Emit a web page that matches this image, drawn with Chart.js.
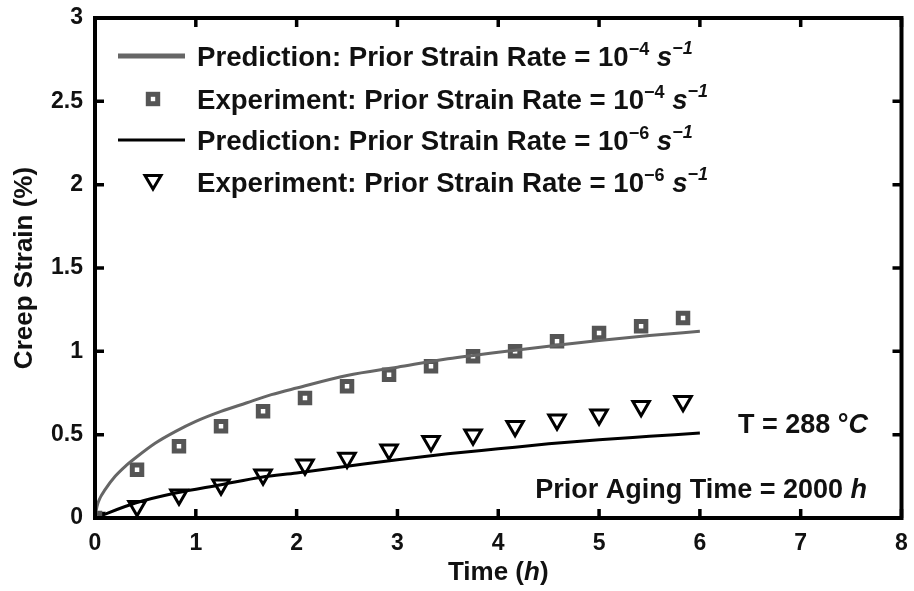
<!DOCTYPE html>
<html>
<head>
<meta charset="utf-8">
<script src="https://cdn.jsdelivr.net/npm/chart.js@4.4.0/dist/chart.umd.min.js"></script>
<style>
body { margin: 0; background: #fff; }
</style>
</head>
<body>
<canvas id="chartCanvas" width="914" height="591"></canvas>
<script>
// tick labels
const xTickLabels = ["0", "1", "2", "3", "4", "5", "6", "7", "8"];
const yTickLabels = ["0", "0.5", "1", "1.5", "2", "2.5", "3"];

// experiment points (time in h, creep strain in %)
const timeExp = [0, 0.417, 0.833, 1.25, 1.667, 2.083, 2.5, 2.917, 3.333, 3.75, 4.167, 4.583, 5.0, 5.417, 5.833];
const strainExpHigh = [0, 0.29, 0.43, 0.55, 0.64, 0.72, 0.79, 0.86, 0.91, 0.97, 1.0, 1.06, 1.11, 1.15, 1.20];
const strainExpLow = [0, 0.07, 0.14, 0.20, 0.26, 0.32, 0.36, 0.41, 0.46, 0.50, 0.55, 0.59, 0.62, 0.67, 0.70];

// prediction curves
const timePredHigh = [0, 0.02, 0.05, 0.1, 0.2, 0.3, 0.4, 0.6, 0.8, 1.0, 1.25, 1.5, 1.75, 2, 2.5, 3, 3.5, 4, 4.5, 5, 5.5, 6];
const strainPredHigh = [0, 0.07, 0.12, 0.17, 0.25, 0.31, 0.36, 0.45, 0.52, 0.58, 0.64, 0.69, 0.74, 0.78, 0.855, 0.905, 0.955, 0.995, 1.03, 1.065, 1.095, 1.12];
const timePredLow = [0, 0.4, 0.8, 1.25, 1.65, 2, 2.5, 3, 3.5, 4, 4.5, 5, 5.5, 6];
const strainPredLow = [0, 0.09, 0.15, 0.20, 0.245, 0.27, 0.31, 0.35, 0.385, 0.415, 0.445, 0.47, 0.49, 0.51];

const legendLabels = [
    "Prediction: Prior Strain Rate = 10",
    "Experiment: Prior Strain Rate = 10",
    "Prediction: Prior Strain Rate = 10",
    "Experiment: Prior Strain Rate = 10"
];
const legendExponents = ["\u22124", "\u22124", "\u22126", "\u22126"];

const GRAY = "#666666";
const GRAY_MARK = "#555555";
const FONT = "Arial, 'Liberation Sans', sans-serif";

function toPoints(xs, ys) {
    return xs.map((x, i) => ({ x: x, y: ys[i] }));
}

// draws a run of text pieces, returns end x
function drawParts(ctx, x, y, parts) {
    parts.forEach(p => {
        ctx.font = p.font;
        ctx.fillText(p.t, x, y + (p.dy || 0));
        x += ctx.measureText(p.t).width;
    });
    return x;
}

function partsWidth(ctx, parts) {
    let w = 0;
    parts.forEach(p => {
        ctx.font = p.font;
        w += ctx.measureText(p.t).width;
    });
    return w;
}

function drawSquare(ctx, x, y) {
    ctx.save();
    ctx.strokeStyle = GRAY_MARK;
    ctx.lineWidth = 5;
    ctx.strokeRect(x - 4.7, y - 4.7, 9.4, 9.4);
    ctx.restore();
}

function drawTriangle(ctx, x, y) {
    ctx.save();
    ctx.strokeStyle = "#000";
    ctx.lineWidth = 3;
    ctx.beginPath();
    ctx.moveTo(x - 8, y - 4.5);
    ctx.lineTo(x + 8, y - 4.5);
    ctx.lineTo(x, y + 9);
    ctx.closePath();
    ctx.stroke();
    ctx.restore();
}

const decorPlugin = {
    id: "decor",
    afterDraw(chart) {
        const ctx = chart.ctx;
        const a = chart.chartArea;
        const xs = chart.scales.x;
        const ys = chart.scales.y;

        ctx.save();
        // box
        ctx.strokeStyle = "#000";
        ctx.lineCap = "square";
        ctx.lineWidth = 4;
        ctx.beginPath();
        ctx.moveTo(a.left, a.top); ctx.lineTo(a.left, a.bottom);
        ctx.lineTo(a.right, a.bottom); ctx.lineTo(a.right, a.top);
        ctx.closePath();
        ctx.stroke();

        // inward ticks
        ctx.lineWidth = 3.5;
        ctx.lineCap = "butt";
        xs.ticks.forEach(t => {
            const px = xs.getPixelForValue(t.value);
            ctx.beginPath();
            ctx.moveTo(px, a.bottom); ctx.lineTo(px, a.bottom - 9);
            ctx.moveTo(px, a.top); ctx.lineTo(px, a.top + 9);
            ctx.stroke();
        });
        ys.ticks.forEach(t => {
            const py = ys.getPixelForValue(t.value);
            ctx.beginPath();
            ctx.moveTo(a.left, py); ctx.lineTo(a.left + 9, py);
            ctx.moveTo(a.right, py); ctx.lineTo(a.right - 9, py);
            ctx.stroke();
        });

        // legend
        ctx.fillStyle = "#111";
        ctx.textBaseline = "alphabetic";
        ctx.textAlign = "left";
        const rowY = [56, 99, 140, 182];
        rowY.forEach((cy, i) => {
            if (i === 0) {
                ctx.strokeStyle = GRAY; ctx.lineWidth = 5;
                ctx.beginPath(); ctx.moveTo(118, cy); ctx.lineTo(185, cy); ctx.stroke();
            } else if (i === 1) {
                drawSquare(ctx, 153, cy);
            } else if (i === 2) {
                ctx.strokeStyle = "#000"; ctx.lineWidth = 3;
                ctx.beginPath(); ctx.moveTo(118, cy); ctx.lineTo(185, cy); ctx.stroke();
            } else {
                drawTriangle(ctx, 153, cy - 2);
            }
            drawParts(ctx, 197, cy + 10, [
                { t: legendLabels[i], font: "bold 27.6px " + FONT },
                { t: legendExponents[i], font: "bold 18px " + FONT, dy: -11 },
                { t: " ", font: "bold 27.6px " + FONT },
                { t: "s", font: "italic bold 27.6px " + FONT },
                { t: "\u22121", font: "italic bold 18px " + FONT, dy: -12 }
            ]);
        });

        // annotations
        const tParts = [
            { t: "T = 288 \u00b0", font: "bold 27px " + FONT },
            { t: "C", font: "italic bold 27px " + FONT }
        ];
        drawParts(ctx, 868 - partsWidth(ctx, tParts), 433, tParts);
        const agingParts = [
            { t: "Prior Aging Time = 2000 ", font: "bold 27px " + FONT },
            { t: "h", font: "italic bold 27px " + FONT }
        ];
        drawParts(ctx, 867 - partsWidth(ctx, agingParts), 498, agingParts);

        // axis titles
        const xt = [
            { t: "Time (", font: "bold 26px " + FONT },
            { t: "h", font: "italic bold 26px " + FONT },
            { t: ")", font: "bold 26px " + FONT }
        ];
        drawParts(ctx, (a.left + a.right) / 2 - partsWidth(ctx, xt) / 2, 580, xt);

        ctx.translate(32, (a.top + a.bottom) / 2);
        ctx.rotate(-Math.PI / 2);
        ctx.font = "bold 26px " + FONT;
        ctx.textAlign = "center";
        ctx.fillText("Creep Strain (%)", 0, 0);
        ctx.restore();
    }
};

const ctx = document.getElementById("chartCanvas");

const chart = new Chart(ctx, {
    type: "scatter",
    data: {
        datasets: [
            {
                label: "Prediction 1e-4",
                data: toPoints(timePredHigh, strainPredHigh),
                showLine: true,
                borderColor: GRAY,
                borderWidth: 3,
                pointRadius: 0,
                cubicInterpolationMode: "monotone"
            },
            {
                label: "Experiment 1e-4",
                data: toPoints(timeExp, strainExpHigh),
                showLine: false,
                pointStyle: "rect",
                pointRadius: 6.7,
                pointBorderWidth: 5,
                pointBorderColor: GRAY_MARK,
                pointBackgroundColor: "#fff"
            },
            {
                label: "Prediction 1e-6",
                data: toPoints(timePredLow, strainPredLow),
                showLine: true,
                borderColor: "#000",
                borderWidth: 3,
                pointRadius: 0,
                cubicInterpolationMode: "monotone"
            },
            {
                label: "Experiment 1e-6",
                data: toPoints(timeExp, strainExpLow),
                showLine: false,
                pointStyle: "triangle",
                rotation: 180,
                pointRadius: 9.5,
                pointBorderWidth: 3,
                pointBorderColor: "#000",
                pointBackgroundColor: "rgba(255,255,255,0)"
            }
        ]
    },
    options: {
        responsive: false,
        animation: false,
        layout: { padding: { top: 18, right: 11, left: 0, bottom: 0 } },
        plugins: {
            legend: { display: false },
            tooltip: { enabled: false }
        },
        scales: {
            x: {
                type: "linear",
                min: 0,
                max: 8,
                grid: { display: false, drawTicks: false },
                border: { display: false },
                ticks: {
                    stepSize: 1,
                    padding: 12,
                    color: "#111",
                    font: { family: FONT, size: 23, weight: "bold" },
                    callback: (v, i) => xTickLabels[i]
                },
                afterFit: s => { s.height = 73; s.paddingLeft = 0; s.paddingRight = 0; }
            },
            y: {
                type: "linear",
                min: 0,
                max: 3,
                grid: { display: false, drawTicks: false },
                border: { display: false },
                ticks: {
                    stepSize: 0.5,
                    padding: 12,
                    color: "#111",
                    font: { family: FONT, size: 23, weight: "bold" },
                    callback: (v, i) => yTickLabels[i]
                },
                afterFit: s => { s.width = 95; s.paddingTop = 0; s.paddingBottom = 0; }
            }
        }
    },
    plugins: [decorPlugin]
});
</script>
</body>
</html>
